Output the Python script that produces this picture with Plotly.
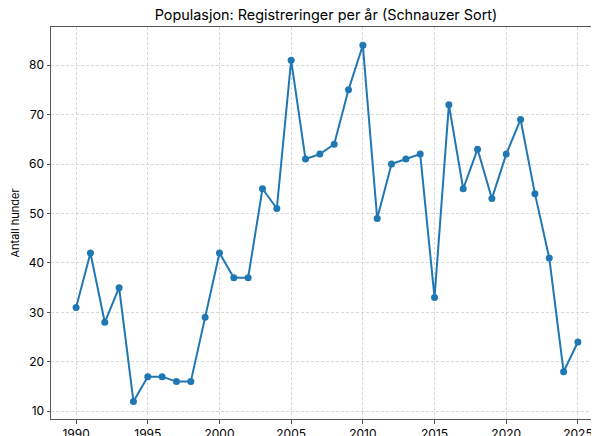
import plotly.graph_objects as go

# Registreringer per år
years = list(range(1990, 2026))
counts = [31, 42, 28, 35, 12, 17, 17, 16, 16, 29,
          42, 37, 37, 55, 51, 81, 61, 62, 64, 75,
          84, 49, 60, 61, 62, 33, 72, 55, 63, 53,
          62, 69, 54, 41, 18, 24]

x_ticks = [1990, 1995, 2000, 2005, 2010, 2015, 2020, 2025]
y_ticks = [10, 20, 30, 40, 50, 60, 70, 80]

fig = go.Figure()
fig.add_trace(go.Scatter(
    x=years, y=counts, mode='lines+markers',
    line=dict(color='#1f77b4', width=2),
    marker=dict(size=7, color='#1f77b4'),
    showlegend=False
))

# siden har 8px body-marg, så figuren krympes tilsvarende
fig.update_layout(
    width=591, height=428,
    margin=dict(l=43, r=0, t=19, b=17, autoexpand=False),
    title=dict(text="Populasjon: Registreringer per år (Schnauzer Sort)",
               x=(326 - 8) / 591, xanchor='center', y=1 - 7 / 428, yanchor='middle',
               font=dict(size=14.4, color='black')),
    plot_bgcolor='white', paper_bgcolor='white',
    font=dict(family="Inter, Roboto, sans-serif", size=12, color='black'),
    xaxis=dict(range=[1988.25, 2026.47], tickvals=x_ticks, automargin=False,
               showline=True, linecolor='#555', linewidth=1, mirror=True,
               ticks='outside', ticklen=3.5, tickcolor='#555',
               showgrid=True, gridcolor='#d8d8d8', griddash='3px,2px', gridwidth=1,
               zeroline=False),
    yaxis=dict(range=[8.44, 87.7], tickvals=y_ticks, automargin=False,
               title=dict(text="Antall hunder", font=dict(size=11), standoff=12),
               showline=True, linecolor='#555', linewidth=1,
               ticks='outside', ticklen=3.5, tickcolor='#555',
               showgrid=True, gridcolor='#d8d8d8', griddash='3px,2px', gridwidth=1,
               zeroline=False),
)

fig.write_html("out.html")
